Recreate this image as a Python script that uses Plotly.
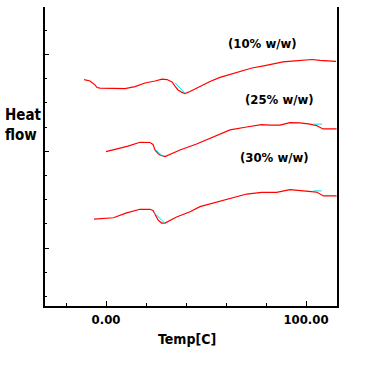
import plotly.graph_objects as go

# ---- data (temperature in C, heat flow in arbitrary units) ----
temp_10 = [-11, -8, -5.5, -4.5, -3, 4.5, 9.5, 14.5, 19.5, 24.5, 28, 30.5, 33, 34.5, 36, 38, 39.5,
           42, 47, 52, 57, 62, 67, 73, 79.5, 84.5, 88.5, 94.5, 99.5, 103, 107, 112, 115]
flow_10 = [6.96, 6.90, 6.74, 6.63, 6.61, 6.59, 6.59, 6.67, 6.82, 6.90, 6.98, 6.96, 6.86, 6.69, 6.53, 6.43, 6.38,
           6.47, 6.69, 6.88, 7.05, 7.17, 7.31, 7.44, 7.54, 7.62, 7.69, 7.73, 7.77, 7.79, 7.75, 7.73, 7.71]

temp_25 = [0, 5.3, 11, 17, 22, 23.5, 24.5, 26, 27, 29.5, 32, 37, 45.3, 53.5, 62, 70.3, 77.8, 82, 87,
           92, 97, 102, 105.3, 108.5, 115.3]
flow_25 = [3.98, 4.08, 4.21, 4.37, 4.36, 4.28, 4.05, 3.90, 3.84, 3.78, 3.88, 4.05, 4.30, 4.59, 4.88, 5.00, 5.10, 5.08, 5.08,
           5.18, 5.17, 5.12, 5.06, 4.92, 4.92]

temp_30 = [-6, 3.7, 10.3, 17, 22, 23.5, 24.5, 26, 27.8, 29.5, 35.3, 42, 47, 53.7, 62, 70.3, 77.8, 85.3,
           92, 100.3, 105.3, 108.7, 115.3]
flow_30 = [1.19, 1.25, 1.45, 1.60, 1.60, 1.55, 1.40, 1.16, 1.03, 1.03, 1.28, 1.50, 1.71, 1.86, 2.02, 2.23, 2.30, 2.30,
           2.41, 2.36, 2.31, 2.15, 2.15]

# cyan baseline construction segments (pairs of points)
base_segments = [
    ([34.5, 39.5], [6.83, 6.39]),
    ([24.5, 28.3], [4.08, 3.80]),
    ([103.5, 108], [5.12, 5.12]),
    ([24, 29.5], [1.46, 1.02]),
    ([103.7, 107.8], [2.36, 2.36]),
]

labels = ["(10% w/w)", "(25% w/w)", "(30% w/w)"]
label_x = [78, 86.5, 84]
label_y = [8.47, 6.12, 3.72]

x_tickvals = [0, 100]
x_ticktext = ["0.00", "100.00"]

FONT = "Liberation Sans Narrow, DejaVu Sans Condensed, Arial Narrow, sans-serif"

fig = go.Figure()
for tx, fy in [(temp_10, flow_10), (temp_25, flow_25), (temp_30, flow_30)]:
    fig.add_trace(go.Scatter(x=tx, y=fy, mode="lines", line=dict(color="#ff0000", width=1.2),
                             showlegend=False, hoverinfo="skip"))
for sx, sy in base_segments:
    fig.add_trace(go.Scatter(x=sx, y=sy, mode="lines", line=dict(color="#00e5ee", width=1),
                             showlegend=False, hoverinfo="skip"))

for t, x, y in zip(labels, label_x, label_y):
    fig.add_annotation(x=x, y=y, text="<b>" + t + "</b>", showarrow=False,
                       font=dict(family=FONT, size=13, color="black"))

fig.add_annotation(xref="paper", yref="paper", x=-0.145, y=0.605, xanchor="left", yanchor="middle",
                   text="<b>Heat<br>flow</b>", showarrow=False, align="left",
                   font=dict(family=FONT, size=15, color="black"))
fig.add_annotation(xref="paper", yref="paper", x=0.486, y=-0.11, xanchor="center", yanchor="middle",
                   text="<b>Temp[C]</b>", showarrow=False,
                   font=dict(family=FONT, size=14, color="black"))

fig.update_layout(
    width=386, height=374,
    margin=dict(l=45, r=49, t=7, b=68),
    paper_bgcolor="white", plot_bgcolor="white",
    showlegend=False,
)
fig.update_xaxes(
    range=[-30.5, 115.5], showgrid=False, zeroline=False,
    showline=True, linecolor="black", linewidth=2, mirror=False,
    tickmode="array", tickvals=x_tickvals, ticktext=["<b>" + t + "</b>" for t in x_ticktext],
    ticks="inside", ticklen=5, tickcolor="black", tickwidth=1,
    minor=dict(ticks="inside", ticklen=3, tickcolor="black", dtick=20, tick0=0),
    tickfont=dict(family=FONT, size=13, color="black"),
)
fig.update_yaxes(
    range=[-2.397, 9.959], showgrid=False, zeroline=False,
    showline=True, linecolor="black", linewidth=2, mirror=True,
    tickmode="linear", tick0=0, dtick=4, showticklabels=False,
    ticks="inside", ticklen=4, tickcolor="black", tickwidth=1,
    minor=dict(ticks="inside", ticklen=2, tickcolor="black", dtick=1, tick0=0),
)

fig.write_html("out.html", config={"displayModeBar": False},
               post_script="document.body.style.margin='0';")
